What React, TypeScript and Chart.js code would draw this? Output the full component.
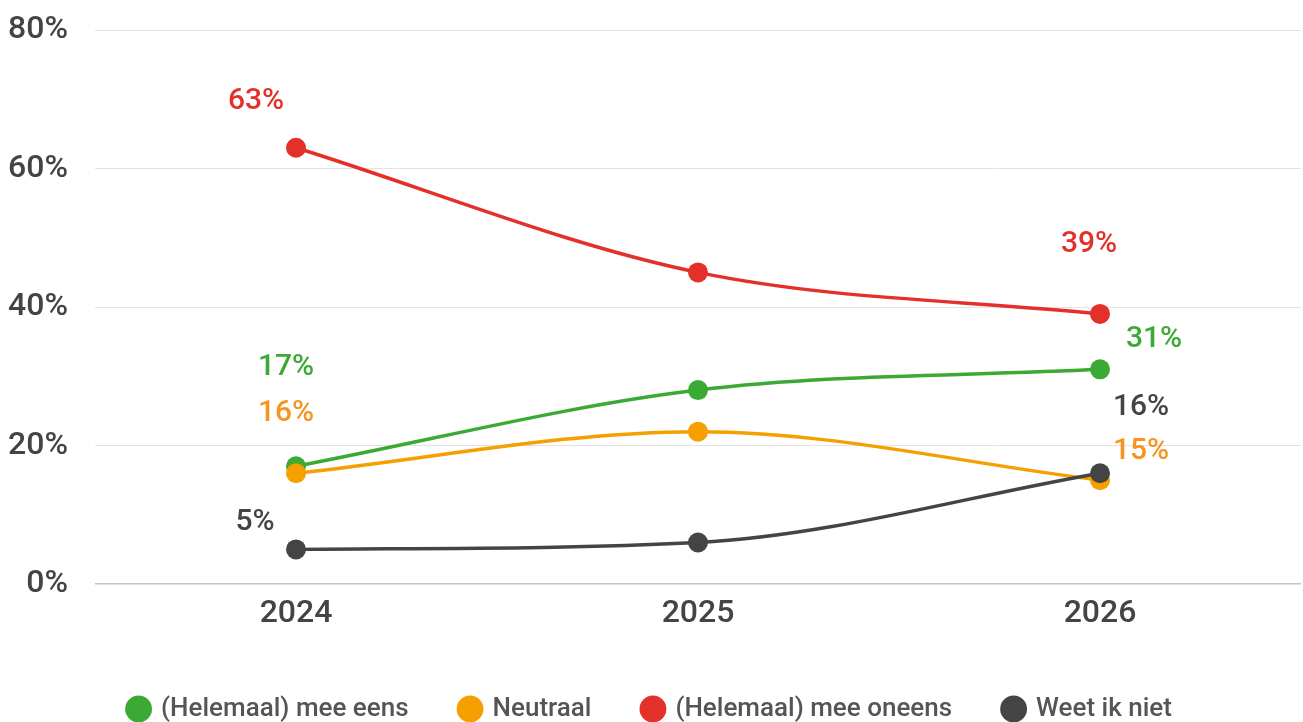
import React, { useEffect, useRef } from "react";
import { Chart, registerables } from "chart.js";

Chart.register(...registerables);

const years = ["2024", "2025", "2026"];
const seriesNames = ["(Helemaal) mee eens", "Neutraal", "(Helemaal) mee oneens", "Weet ik niet"];
const eens = [17, 28, 31];
const neutraal = [16, 22, 15];
const oneens = [63, 45, 39];
const weetNiet = [5, 6, 16];
const yTicks = [0, 20, 40, 60, 80];

const lineColors = ["#3aaa35", "#f5a000", "#e3302a", "#444444"];
const labelColors = ["#3aaa35", "#f7941d", "#e3302a", "#444444"];
// label offsets (dx, dy) relative to point, for index 0 and index 2
const labelOffsets = [
  [[-10, -99], null, [54, -30]],
  [[-10, -60], null, [41, -29]],
  [[-40, -46], null, [-11, -69]],
  [[-41, -27], null, [41, -66]],
];

const FONT = "Roboto";

const dataLabelPlugin = {
  id: "customDataLabels",
  afterDatasetsDraw(chart: any) {
    const ctx = chart.ctx;
    ctx.save();
    ctx.font = `500 30px ${FONT}`;
    ctx.textAlign = "center";
    ctx.textBaseline = "middle";
    chart.data.datasets.forEach((ds: any, di: number) => {
      const meta = chart.getDatasetMeta(di);
      meta.data.forEach((pt: any, i: number) => {
        const off = labelOffsets[di][i];
        if (!off) return;
        ctx.fillStyle = labelColors[di];
        ctx.fillText(`${ds.data[i]}%`, pt.x + off[0], pt.y + off[1]);
      });
    });
    ctx.restore();
  },
};

export default function App() {
  const ref = useRef<HTMLCanvasElement>(null);
  useEffect(() => {
    document.body.style.margin = "0";
    const values = [eens, neutraal, oneens, weetNiet];
    const orders = [4, 3, 2, 1];
    const chart = new Chart(ref.current!, {
      type: "line",
      data: {
        labels: years,
        datasets: values.map((v, i) => ({
          label: seriesNames[i],
          data: v,
          borderColor: lineColors[i],
          backgroundColor: lineColors[i],
          pointBackgroundColor: lineColors[i],
          pointBorderWidth: 0,
          pointRadius: 10,
          borderWidth: 3.5,
          cubicInterpolationMode: "monotone" as const,
          order: orders[i],
          fill: false,
        })),
      },
      options: {
        responsive: false,
        animation: false,
        layout: { autoPadding: false, padding: { top: 30, right: 2, left: 0, bottom: 0 } },
        plugins: {
          tooltip: { enabled: false },
          legend: {
            position: "bottom",
            labels: {
              usePointStyle: true,
              pointStyle: "circle",
              boxWidth: 19,
              boxHeight: 19,
              padding: 52,
              color: "#555555",
              font: { family: FONT, size: 26, weight: "500" },
              sort: (a: any, b: any) => a.datasetIndex - b.datasetIndex,
            },
          },
        },
        scales: {
          x: {
            offset: true,
            grid: { display: false, drawTicks: false },
            border: { display: false },
            ticks: {
              color: "#444444",
              padding: 11,
              font: { family: FONT, size: 32, weight: "500" },
            },
            afterFit: (s: any) => {
              s.height = 60;
              s.paddingLeft = 0;
              s.paddingRight = 0;
            },
          },
          y: {
            min: 0,
            max: 80,
            afterBuildTicks: (s: any) => {
              s.ticks = yTicks.map((v) => ({ value: v }));
            },
            grid: {
              drawTicks: false,
              color: (c: any) => (c.tick && c.tick.value === 0 ? "#c4c4c4" : "#e3e3e3"),
              lineWidth: (c: any) => (c.tick && c.tick.value === 0 ? 1.5 : 1),
            },
            border: { display: false },
            ticks: {
              color: "#444444",
              padding: 27,
              font: { family: FONT, size: 32, weight: "500" },
              callback: (v: any) => `${v}%`,
            },
            afterFit: (s: any) => {
              s.width = 95;
              s.paddingTop = 0;
              s.paddingBottom = 0;
            },
          },
        },
      },
      plugins: [dataLabelPlugin],
    });
    return () => chart.destroy();
  }, []);
  return (
    <div style={{ position: "fixed", left: 0, top: 0, width: 1303, height: 722, overflow: "hidden", background: "#fff" }}>
      <canvas ref={ref} width={1303} height={732} />
    </div>
  );
}
